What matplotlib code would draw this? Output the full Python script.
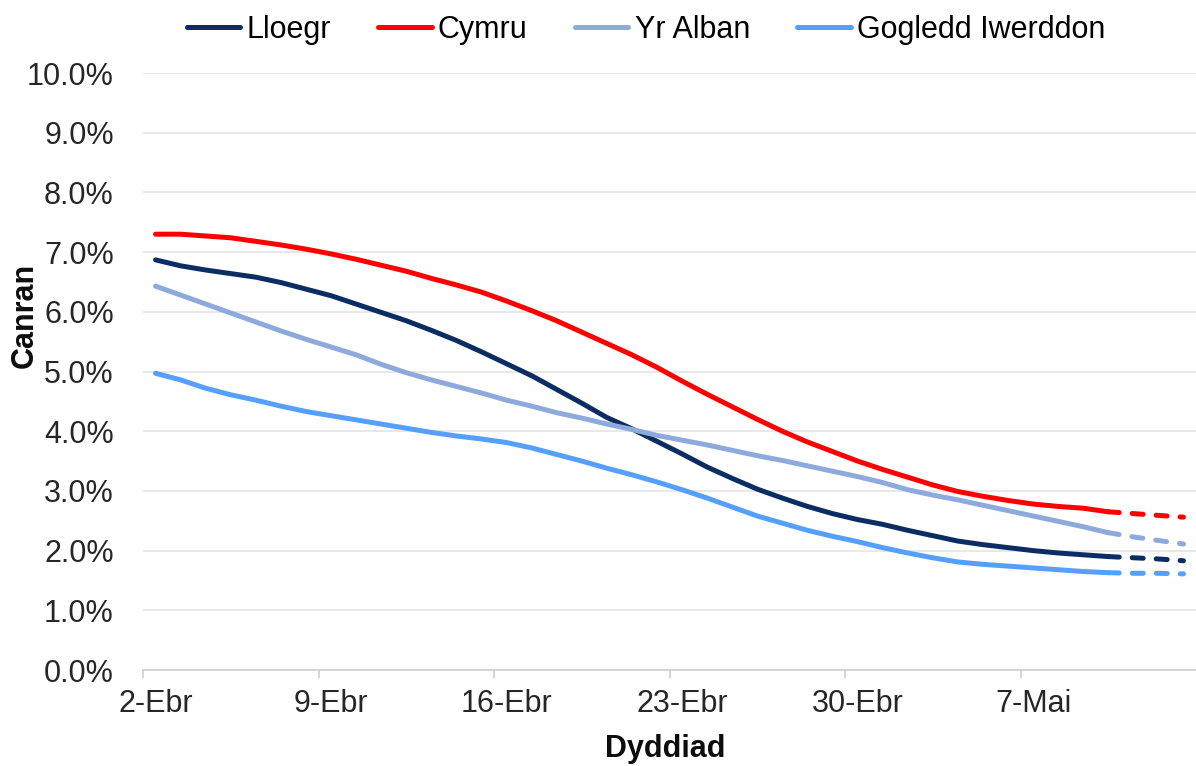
import matplotlib
matplotlib.use("Agg")
import matplotlib.pyplot as plt
from matplotlib.ticker import FuncFormatter
import numpy as np

plt.rcParams['font.family'] = ['Liberation Sans', 'DejaVu Sans']

# daily values (%) from 2-Ebr to 13-Mai; last 3 days are provisional (dashed)
lloegr = [6.87, 6.77, 6.70, 6.64, 6.58, 6.49, 6.38, 6.27, 6.13, 5.99,
          5.85, 5.69, 5.52, 5.33, 5.13, 4.93, 4.70, 4.47, 4.23, 4.04,
          3.83, 3.62, 3.40, 3.21, 3.03, 2.88, 2.74, 2.62, 2.52, 2.44,
          2.34, 2.25, 2.16, 2.10, 2.05, 2.00, 1.96, 1.93, 1.90, 1.88,
          1.86, 1.83]
cymru = [7.30, 7.30, 7.27, 7.24, 7.18, 7.12, 7.05, 6.97, 6.88, 6.78,
         6.68, 6.56, 6.45, 6.33, 6.18, 6.02, 5.85, 5.66, 5.47, 5.28,
         5.07, 4.84, 4.62, 4.41, 4.20, 4.00, 3.82, 3.66, 3.50, 3.36,
         3.23, 3.10, 2.99, 2.91, 2.84, 2.78, 2.74, 2.71, 2.65, 2.62,
         2.59, 2.56]
yr_alban = [6.43, 6.28, 6.13, 5.98, 5.83, 5.68, 5.54, 5.41, 5.28, 5.12,
            4.98, 4.86, 4.75, 4.64, 4.52, 4.42, 4.31, 4.22, 4.12, 4.03,
            3.93, 3.85, 3.77, 3.68, 3.59, 3.51, 3.42, 3.33, 3.24, 3.14,
            3.02, 2.93, 2.85, 2.76, 2.67, 2.58, 2.49, 2.40, 2.30, 2.23,
            2.17, 2.11]
gogledd_iwerddon = [4.97, 4.86, 4.72, 4.61, 4.52, 4.42, 4.33, 4.26, 4.19, 4.12,
                    4.05, 3.98, 3.92, 3.87, 3.81, 3.72, 3.61, 3.50, 3.38, 3.27,
                    3.15, 3.02, 2.88, 2.73, 2.58, 2.46, 2.34, 2.24, 2.15, 2.05,
                    1.96, 1.88, 1.81, 1.77, 1.74, 1.71, 1.68, 1.65, 1.63, 1.62,
                    1.62, 1.61]

series = [("Lloegr", lloegr, "#0c2d63"),
          ("Cymru", cymru, "#ff0000"),
          ("Yr Alban", yr_alban, "#8eaadc"),
          ("Gogledd Iwerddon", gogledd_iwerddon, "#55a0ff")]

tick_days = [0, 7, 14, 21, 28, 35]
tick_labels = ["2-Ebr", "9-Ebr", "16-Ebr", "23-Ebr", "30-Ebr", "7-Mai"]
last_solid = 38  # 10-Mai

fig = plt.figure(figsize=(11.96, 7.66), dpi=100)
ax = fig.add_axes([143 / 1196, 1 - 670 / 766, 1 - 143 / 1196, (670 - 73) / 766])

x = np.arange(len(lloegr))
for name, vals, col in series:
    v = np.array(vals)
    ax.plot(x[:last_solid + 1], v[:last_solid + 1], color=col, lw=3.6,
            solid_capstyle='round', solid_joinstyle='round', label=name, zorder=3)
    ax.plot(x[last_solid:], v[last_solid:], color=col, lw=3.6,
            ls=(0, (2.2, 2.6)), dash_capstyle='round', zorder=3)

ax.set_ylim(0, 10)
ax.set_xlim(-0.5, len(lloegr) - 0.5)
ax.set_yticks(np.arange(0, 11, 1))
ax.yaxis.set_major_formatter(FuncFormatter(lambda v, p: f"{v:.1f}%"))
ax.tick_params(axis='y', length=0, pad=21, labelsize=22, labelcolor='#262626')
ax.grid(axis='y', color='#e4e4e4', lw=1.2, zorder=0)

# tick marks sit between days, labels sit under the day
ax.set_xticks([d - 0.5 for d in tick_days])
ax.set_xticklabels([])
ax.set_xticks(tick_days, minor=True)
ax.set_xticklabels(tick_labels, minor=True)
ax.tick_params(axis='x', which='major', length=6, width=1.2, color='#d0d0d0')
ax.tick_params(axis='x', which='minor', length=0, pad=14, labelsize=22, labelcolor='#262626')

for s in ['top', 'right', 'left']:
    ax.spines[s].set_visible(False)
ax.spines['bottom'].set_color('#d0d0d0')
ax.spines['bottom'].set_linewidth(1.2)

fig.text(25 / 1196, 1 - 315 / 766, "Canran", rotation=90, ha='center', va='center',
         fontsize=22, fontweight='bold', color='#0d0d0d')
fig.text(665 / 1196, 1 - 757 / 766, "Dyddiad", ha='center', va='baseline',
         fontsize=22, fontweight='bold', color='#0d0d0d')

fig.legend(loc='center', bbox_to_anchor=(646 / 1196, 1 - 30 / 766), ncol=4,
           frameon=False, fontsize=22, handlelength=1.75, handletextpad=0.2,
           columnspacing=1.55, borderpad=0)

fig.savefig("out.png", dpi=100)
